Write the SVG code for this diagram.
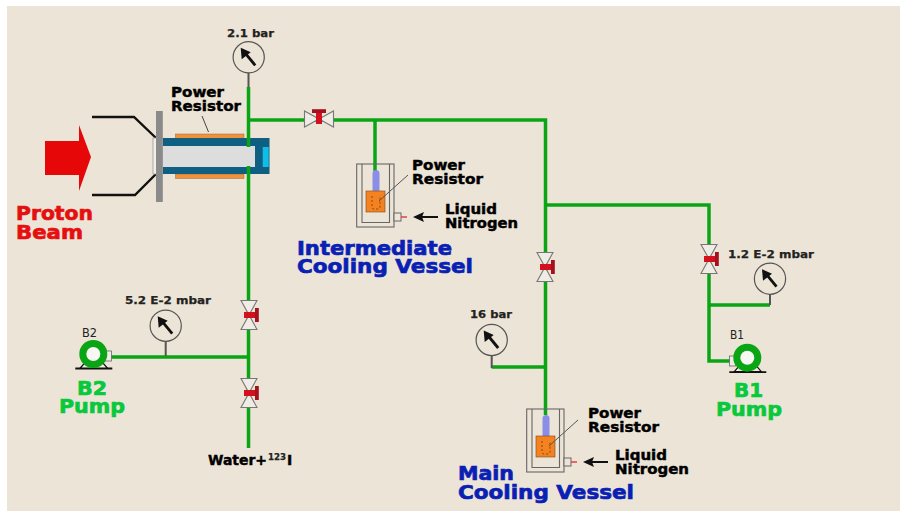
<svg xmlns="http://www.w3.org/2000/svg" width="902" height="511" viewBox="0 0 902 511">
<style>
text{font-family:"DejaVu Sans","Liberation Sans",sans-serif;font-weight:700}
.pipe{fill:none;stroke:#0aa514;stroke-width:3.5;stroke-linecap:butt;stroke-linejoin:miter}
.stem{fill:none;stroke:#555;stroke-width:2}
.lab{font-size:14px;fill:#000;stroke:#000;stroke-width:.45}
.val{font-size:11px;fill:#222;stroke:#222;stroke-width:.25}
.big{font-size:20px;stroke-width:.7}
.red{fill:#e60f0f;stroke:#e60f0f}.blue{fill:#0a1fb4;stroke:#0a1fb4}.green{fill:#08c83c;stroke:#08c83c}
.tag{font-size:12px;font-weight:400;fill:#222}
.thin{fill:none;stroke:#555;stroke-width:1}
</style>
<defs>
<g id="gauge">
<circle r="15.6" fill="#ece4d6" stroke="#555" stroke-width="1.2"/>
<path d="M6.500 8L-5 -6" stroke="#111" stroke-width="2.800" fill="none"/>
<path d="M-8 -9.500L-7 2L2 -5Z" fill="#111"/>
</g>
<g id="valve">
<path d="M-8 -14.500H8L0 0ZM-8 14.500H8L0 0Z" fill="#efece6" stroke="#777" stroke-width="1.100"/>
<path d="M-5 -3H6V3H-5Z" fill="#d3101e"/>
<rect x="6" y="-7" width="3.800" height="14" fill="#a5101e"/>
</g>
<g id="pump">
<path d="M-18 14.500H19" stroke="#111" stroke-width="1.800" fill="none"/>
<path d="M-13 14L-7 7H8L14 14Z" fill="#efece6" stroke="#111" stroke-width="1.200"/>
<circle r="14" fill="#0aa514"/>
<circle r="7" fill="#f7f7f4"/>
</g>
<g id="vessel">
<rect x="356.700" y="164" width="37.300" height="63" fill="none" stroke="#666" stroke-width="1.100"/>
<path d="M362 164V222.500H389.500V164" fill="none" stroke="#666" stroke-width="1.100"/>
<rect x="372.500" y="170" width="7" height="26" rx="3.500" fill="#8a8ee6"/>
<rect x="366" y="191" width="19" height="21" fill="#f58220" stroke="#7a4a1a" stroke-width=".6"/>
<path d="M372 196V207Q372 209 374 209H378Q380 209 380 207V196" fill="none" stroke="#6b3a10" stroke-width=".8" stroke-dasharray="2 2"/>
<rect x="394" y="213" width="7" height="8" fill="#ece4d6" stroke="#666" stroke-width="1"/>
<path d="M401 217H407" stroke="#e0404a" stroke-width="1.500"/>
<path d="M420 217H438" stroke="#111" stroke-width="2"/>
<path d="M413 217L424 212L422 217L424 222Z" fill="#111"/>
<path d="M408 175L379 201" class="thin"/>
</g>
</defs>
<rect width="902" height="511" fill="#fff"/>
<rect x="7" y="6" width="893" height="505" fill="#ece4d6"/>

<g id="connectors">
<path class="pipe" d="M248.500 87V147M248.500 166V448"/>
<path class="pipe" d="M248.500 120H545.500V415"/>
<path class="pipe" d="M375 120V171"/>
<path class="pipe" d="M545.500 205H709V361H730"/>
<path class="pipe" d="M709 305H770"/>
<path class="pipe" d="M545.500 367H491.700"/>
<path class="pipe" d="M110 357H248.500"/>
<path class="stem" d="M248.500 73V87M165.700 341V356M491.700 356V368M770 294V305"/>
</g>

<g id="beam">
<path d="M45 141H79V125L91 157L79 191V175H45Z" fill="#e60808"/>
<text class="big red" x="16" y="220" textLength="77" lengthAdjust="spacingAndGlyphs">Proton</text>
<text class="big red" x="16" y="239" textLength="67" lengthAdjust="spacingAndGlyphs">Beam</text>
</g>

<g id="target">
<path d="M92 117H134L156 138M92 195H135L156 174" fill="none" stroke="#111" stroke-width="2.400"/>
<rect x="153" y="138" width="10" height="36" fill="#f2efe8" stroke="#999" stroke-width=".8"/>
<rect x="175.500" y="134" width="68.500" height="4.500" fill="#f0923c" stroke="#96673c" stroke-width=".5"/>
<rect x="175.500" y="174" width="68.500" height="4.500" fill="#f0923c" stroke="#96673c" stroke-width=".5"/>
<rect x="163" y="138" width="106.500" height="36" fill="#0f5f82"/>
<rect x="163" y="146" width="92" height="21" fill="#dddddd"/>
<rect x="262.700" y="147" width="6" height="20" fill="#10bde6"/>
<rect x="156" y="111" width="6.800" height="91" fill="#8a8a8a"/>
<path d="M248.500 138V147M248.500 166V174" stroke="#0aa514" stroke-width="3.500"/>
<path d="M202 116L208.500 132" stroke="#444" stroke-width="1" fill="none"/>
<text class="lab" x="171" y="97" textLength="53" lengthAdjust="spacingAndGlyphs">Power</text>
<text class="lab" x="171" y="111" textLength="70" lengthAdjust="spacingAndGlyphs">Resistor</text>
</g>

<g id="gauge-21"><use href="#gauge" x="248.700" y="57.300"/><text class="val" x="227" y="37" textLength="47" lengthAdjust="spacingAndGlyphs">2.1 bar</text></g>
<g id="gauge-52"><use href="#gauge" x="165.700" y="325.700"/><text class="val" x="125" y="304" textLength="86" lengthAdjust="spacingAndGlyphs">5.2 E-2 mbar</text></g>
<g id="gauge-16"><use href="#gauge" x="491.700" y="340"/><text class="val" x="470" y="318" textLength="42" lengthAdjust="spacingAndGlyphs">16 bar</text></g>
<g id="gauge-12"><use href="#gauge" x="770" y="278.700"/><text class="val" x="728" y="258" textLength="86" lengthAdjust="spacingAndGlyphs">1.2 E-2 mbar</text></g>

<g id="valve-top"><use href="#valve" transform="translate(319 119) rotate(-90)"/></g>
<g id="valve-main"><use href="#valve" x="545" y="267"/></g>
<g id="valve-b1"><use href="#valve" x="709" y="259"/></g>
<g id="valve-b2"><use href="#valve" x="249" y="315"/></g>
<g id="valve-water"><use href="#valve" x="249" y="393"/></g>

<g id="vessel-intermediate">
<use href="#vessel"/>
<text class="lab" x="412" y="170" textLength="53" lengthAdjust="spacingAndGlyphs">Power</text>
<text class="lab" x="412" y="184" textLength="71" lengthAdjust="spacingAndGlyphs">Resistor</text>
<text class="lab" x="445" y="214" textLength="52" lengthAdjust="spacingAndGlyphs">Liquid</text>
<text class="lab" x="445" y="228" textLength="73" lengthAdjust="spacingAndGlyphs">Nitrogen</text>
<text class="big blue" x="297" y="255" textLength="155" lengthAdjust="spacingAndGlyphs">Intermediate</text>
<text class="big blue" x="297" y="273" textLength="176" lengthAdjust="spacingAndGlyphs">Cooling Vessel</text>
</g>

<g id="vessel-main">
<use href="#vessel" x="170" y="245"/>
<text class="lab" x="588" y="418" textLength="53" lengthAdjust="spacingAndGlyphs">Power</text>
<text class="lab" x="588" y="432" textLength="71" lengthAdjust="spacingAndGlyphs">Resistor</text>
<text class="lab" x="615" y="460" textLength="52" lengthAdjust="spacingAndGlyphs">Liquid</text>
<text class="lab" x="615" y="474" textLength="74" lengthAdjust="spacingAndGlyphs">Nitrogen</text>
<text class="big blue" x="458" y="480" textLength="56" lengthAdjust="spacingAndGlyphs">Main</text>
<text class="big blue" x="458" y="499" textLength="176" lengthAdjust="spacingAndGlyphs">Cooling Vessel</text>
</g>

<g id="pump-b2">
<rect x="105" y="351" width="6.500" height="10" fill="#efece6" stroke="#666" stroke-width=".8"/>
<use href="#pump" x="93.300" y="354"/>
<text class="tag" x="82" y="337" textLength="15" lengthAdjust="spacingAndGlyphs">B2</text>
<text class="big green" x="77" y="395" textLength="30" lengthAdjust="spacingAndGlyphs">B2</text>
<text class="big green" x="59" y="413" textLength="66" lengthAdjust="spacingAndGlyphs">Pump</text>
</g>

<g id="pump-b1">
<rect x="729.500" y="356" width="6" height="10" fill="#efece6" stroke="#666" stroke-width=".8"/>
<use href="#pump" x="747.300" y="357.700"/>
<text class="tag" x="730" y="339" textLength="14" lengthAdjust="spacingAndGlyphs">B1</text>
<text class="big green" x="734" y="397" textLength="29" lengthAdjust="spacingAndGlyphs">B1</text>
<text class="big green" x="716" y="416" textLength="66" lengthAdjust="spacingAndGlyphs">Pump</text>
</g>

<g id="water"><text class="lab" x="208" y="465" textLength="59" lengthAdjust="spacingAndGlyphs">Water+</text><text class="val" style="font-size:8px" x="268" y="460" textLength="18" lengthAdjust="spacingAndGlyphs">123</text><text class="lab" x="287" y="465">I</text></g>
</svg>
